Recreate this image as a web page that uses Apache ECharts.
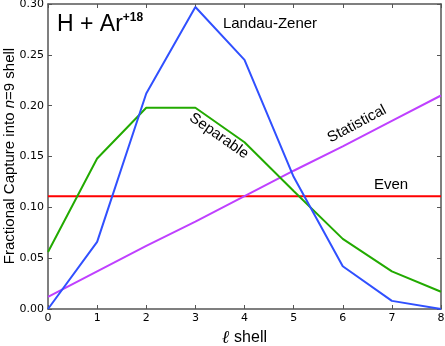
<!DOCTYPE html>
<html>
<head>
<meta charset="utf-8">
<script src="https://cdn.jsdelivr.net/npm/echarts@6/dist/echarts.min.js"></script>
<style>
  html, body { margin: 0; padding: 0; background: #fff; }
  #chart { width: 445px; height: 346px; }
</style>
</head>
<body>
<div id="chart"></div>
<script>
// l shell 0..8
const shells = [0, 1, 2, 3, 4, 5, 6, 7, 8];
const landauZener = [0.0, 0.066, 0.212, 0.297, 0.245, 0.130, 0.042, 0.008, 0.0];
const separable = [0.056, 0.148, 0.198, 0.198, 0.164, 0.116, 0.069, 0.037, 0.017];
const even = [0.111, 0.111, 0.111, 0.111, 0.111, 0.111, 0.111, 0.111, 0.111];
const statistical = [0.012, 0.037, 0.062, 0.086, 0.111, 0.136, 0.160, 0.185, 0.210];

const TICKFONT = 'DejaVu Sans';
const FONT = 'Liberation Sans';
const frame = '#555';

const pairs = arr => shells.map((x, i) => [x, arr[i]]);
const line = (name, color, data) => ({
  name, type: 'line', data: pairs(data), symbol: 'none',
  lineStyle: { color, width: 2 }, xAxisIndex: 0, yAxisIndex: 0, z: 3
});

const chart = echarts.init(document.getElementById('chart'));

const axisCommon = {
  axisLine: { show: true, onZero: false, lineStyle: { color: frame, width: 1.5 } },
  axisTick: { show: true, inside: true, length: 4, lineStyle: { color: frame } },
  splitLine: { show: false }
};

chart.setOption({
  animation: false,
  textStyle: { fontFamily: FONT },
  grid: { left: 48, right: 4, top: 4, bottom: 37, containLabel: false, outerBoundsMode: 'none' },
  xAxis: [
    Object.assign({
      type: 'value', min: 0, max: 8, interval: 1, position: 'bottom',
      axisLabel: { color: '#000', fontSize: 11, margin: 4, fontFamily: TICKFONT },
      name: '{i|ℓ} shell', nameLocation: 'middle', nameGap: 19,
      nameTextStyle: {
        color: '#000', fontSize: 16, fontFamily: FONT,
        rich: { i: { fontSize: 18, fontStyle: 'italic', fontWeight: 'bold', fontFamily: 'DejaVu Serif' } }
      }
    }, axisCommon),
    Object.assign({
      type: 'value', min: 0, max: 8, interval: 1, position: 'top',
      axisLabel: { show: false }
    }, axisCommon)
  ],
  yAxis: [
    Object.assign({
      type: 'value', min: 0, max: 0.3, interval: 0.05, position: 'left',
      axisLabel: { color: '#000', fontSize: 11, margin: 4, fontFamily: TICKFONT,
        formatter: v => v.toFixed(2) }
    }, axisCommon),
    Object.assign({
      type: 'value', min: 0, max: 0.3, interval: 0.05, position: 'right',
      axisLabel: { show: false }
    }, axisCommon)
  ],
  series: [
    line('Even', '#ff0000', even),
    line('Statistical', '#bf40ff', statistical),
    line('Separable', '#22aa00', separable),
    line('Landau-Zener', '#3050ff', landauZener)
  ],
  graphic: [
    {
      type: 'text', x: 10, y: 156, rotation: Math.PI / 2,
      style: {
        text: '{r|Fractional Capture into }{i|n}{r|=9 shell}',
        align: 'center', verticalAlign: 'middle',
        rich: {
          r: { fontSize: 15, fontFamily: FONT, fill: '#000' },
          i: { fontSize: 15, fontFamily: FONT, fontStyle: 'italic', fill: '#000' }
        }
      }
    },
    {
      type: 'text', left: 57, top: 12,
      style: {
        text: '{b|H + Ar}{s|+18}', fill: '#000',
        rich: {
          b: { fontSize: 23, fontFamily: FONT, fill: '#000' },
          s: { fontSize: 12, fontFamily: FONT, fontWeight: 'bold', fill: '#000', verticalAlign: 'top', padding: [0, 0, 14, 0] }
        }
      }
    },
    { type: 'text', x: 270, y: 24, style: { text: 'Landau-Zener', fontSize: 15, fontFamily: FONT, fill: '#000', align: 'center', verticalAlign: 'middle' } },
    { type: 'text', x: 219, y: 136, rotation: -35 * Math.PI / 180, style: { text: 'Separable', fontSize: 15, fontFamily: FONT, fill: '#000', align: 'center', verticalAlign: 'middle' } },
    { type: 'text', x: 357, y: 124, rotation: 28 * Math.PI / 180, style: { text: 'Statistical', fontSize: 15, fontFamily: FONT, fill: '#000', align: 'center', verticalAlign: 'middle' } },
    { type: 'text', x: 391, y: 185, style: { text: 'Even', fontSize: 15, fontFamily: FONT, fill: '#000', align: 'center', verticalAlign: 'middle' } }
  ]
});
</script>
</body>
</html>
